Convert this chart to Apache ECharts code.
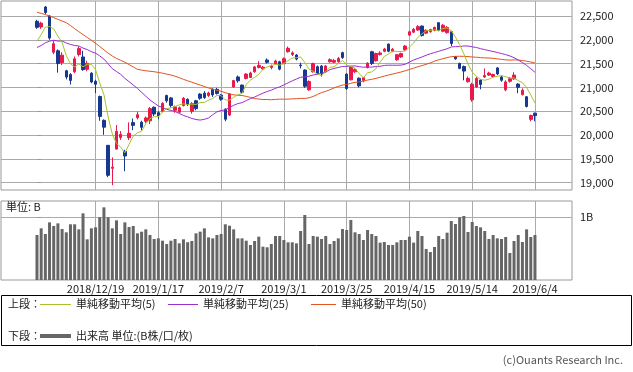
<!DOCTYPE html>
<html><head><meta charset="utf-8">
<script src="https://cdn.jsdelivr.net/npm/echarts@6/dist/echarts.min.js"></script>
<style>html,body{margin:0;padding:0;background:#fff}#c{width:633px;height:372px}</style>
</head><body><div id="c"></div>
<script>
const dates = ["2018/11/29","2018/11/30","2018/12/3","2018/12/4","2018/12/5","2018/12/6","2018/12/7","2018/12/10","2018/12/11","2018/12/12","2018/12/13","2018/12/14","2018/12/17","2018/12/18","2018/12/19","2018/12/20","2018/12/21","2018/12/25","2018/12/26","2018/12/27","2018/12/28","2019/1/4","2019/1/7","2019/1/8","2019/1/9","2019/1/10","2019/1/11","2019/1/15","2019/1/16","2019/1/17","2019/1/18","2019/1/21","2019/1/22","2019/1/23","2019/1/24","2019/1/25","2019/1/28","2019/1/29","2019/1/30","2019/1/31","2019/2/1","2019/2/4","2019/2/5","2019/2/6","2019/2/7","2019/2/8","2019/2/12","2019/2/13","2019/2/14","2019/2/15","2019/2/18","2019/2/19","2019/2/20","2019/2/21","2019/2/22","2019/2/25","2019/2/26","2019/2/27","2019/2/28","2019/3/1","2019/3/4","2019/3/5","2019/3/6","2019/3/7","2019/3/8","2019/3/11","2019/3/12","2019/3/13","2019/3/14","2019/3/15","2019/3/18","2019/3/19","2019/3/20","2019/3/22","2019/3/25","2019/3/26","2019/3/27","2019/3/28","2019/3/29","2019/4/1","2019/4/2","2019/4/3","2019/4/4","2019/4/5","2019/4/8","2019/4/9","2019/4/10","2019/4/11","2019/4/12","2019/4/15","2019/4/16","2019/4/17","2019/4/18","2019/4/19","2019/4/22","2019/4/23","2019/4/24","2019/4/25","2019/4/26","2019/5/7","2019/5/8","2019/5/9","2019/5/10","2019/5/13","2019/5/14","2019/5/15","2019/5/16","2019/5/17","2019/5/20","2019/5/21","2019/5/22","2019/5/23","2019/5/24","2019/5/27","2019/5/28","2019/5/29","2019/5/30","2019/5/31","2019/6/3","2019/6/4"];

const openP = [22390,22270,22690,22500,21740,21770,21520,21350,21270,21330,21690,21640,21380,21300,21130,20810,20310,19785,19302,19706,19950,19655,19944,20262,20366,20270,20290,20300,20585,20470,20500,20830,20780,20520,20480,20620,20750,20500,20720,20860,20880,20831,20965,20960,20840,20545,20420,21010,21220,21050,21190,21210,21330,21420,21390,21575,21420,21500,21540,21500,21750,21690,21680,21470,21365,20950,21330,21435,21450,21330,21540,21530,21540,21730,21280,21160,21330,21195,21150,21420,21750,21560,21690,21760,21910,21760,21580,21640,21790,22100,22160,22205,22290,22140,22170,22200,22360,22180,22150,22170,21645,21505,21440,21120,20740,21010,21155,21220,21260,21230,21410,21220,20950,21130,21180,21070,20850,20805,20330,20460];
const closeP = [22262,22351,22574,22036,21919,21501,21678,21219,21148,21602,21816,21374,21506,21115,21068,20392,20166,19155,19327,20077,20015,19561,20038,20204,20427,20163,20360,20555,20442,20402,20666,20719,20622,20593,20574,20773,20649,20664,20556,20773,20788,20883,20844,20874,20751,20333,20864,21144,21139,20900,21281,21302,21431,21464,21425,21528,21449,21556,21385,21602,21822,21726,21596,21456,21025,21125,21503,21290,21287,21451,21584,21566,21608,21627,20977,21428,21378,21033,21205,21509,21505,21713,21724,21807,21761,21802,21687,21711,21870,22169,22221,22277,22090,22200,22217,22259,22200,22307,22258,21923,21602,21402,21344,21191,21067,21188,21062,21250,21301,21272,21283,21151,21117,21182,21260,21003,20942,20601,20410,20408];
const highP = [22420,22380,22710,22520,21980,21800,21740,21370,21300,21650,21860,21770,21560,21320,21160,20830,20330,19790,19530,20211,20084,19692,20266,20347,20494,20300,20390,20590,20600,20500,20690,20850,20800,20620,20600,20800,20770,20690,20740,20880,20920,20910,20980,20990,20860,20560,20880,21160,21250,21060,21300,21330,21450,21550,21450,21610,21480,21580,21560,21630,21860,21760,21700,21520,21380,21150,21520,21460,21470,21470,21610,21600,21640,21750,21300,21440,21400,21210,21220,21530,21770,21730,21760,21830,21920,21830,21700,21730,21890,22190,22250,22310,22300,22220,22230,22280,22370,22330,22290,22190,21660,21520,21460,21230,21100,21220,21170,21400,21330,21290,21430,21240,21150,21220,21320,21090,20980,20820,20430,20470];
const lowP = [22230,22230,22540,22000,21700,21310,21470,21170,21060,21300,21650,21350,21340,21090,20880,20300,20006,19117,18948,19701,19900,19241,19895,20103,20331,20100,20250,20230,20400,20330,20480,20680,20580,20470,20460,20600,20610,20450,20520,20740,20760,20800,20800,20850,20720,20290,20400,20990,21100,20880,21170,21200,21310,21400,21370,21500,21380,21480,21360,21490,21730,21660,21570,21400,20990,20930,21310,21270,21230,21310,21520,21510,21520,21600,20950,21150,21300,21000,21110,21400,21470,21540,21670,21740,21740,21740,21560,21620,21770,22080,22140,22190,22070,22120,22150,22180,22180,22160,22130,21870,21580,21380,21150,21100,20700,20990,20960,21200,21240,21210,21260,21120,20920,21100,21160,20880,20830,20580,20290,20290];
const volume = [0.714,0.820,0.730,0.915,0.857,0.899,0.810,0.757,0.884,0.884,0.804,1.058,0.646,0.820,0.836,0.995,1.153,0.995,0.820,0.947,0.730,0.915,0.841,0.857,0.741,0.767,0.804,0.714,0.651,0.661,0.624,0.571,0.624,0.651,0.582,0.646,0.600,0.620,0.741,0.767,0.820,0.677,0.661,0.714,0.730,0.884,0.862,0.804,0.661,0.661,0.624,0.556,0.619,0.688,0.529,0.519,0.571,0.698,0.698,0.635,0.598,0.598,0.582,0.778,1.032,0.571,0.698,0.688,0.651,0.698,0.571,0.619,0.661,0.810,0.794,0.952,0.757,0.730,0.635,0.794,0.730,0.698,0.593,0.603,0.556,0.556,0.598,0.635,0.635,0.688,0.593,0.778,0.698,0.492,0.444,0.524,0.698,0.651,0.751,0.937,0.889,0.995,1.016,0.762,0.921,0.857,0.836,0.778,0.651,0.714,0.661,0.651,0.683,0.429,0.619,0.714,0.603,0.804,0.683,0.714];
const ma5 = [21970,22111,22263,22280,22228,22076,21942,21671,21493,21430,21493,21432,21489,21483,21376,21091,20849,20379,20022,19823,19748,19627,19804,19979,20049,20079,20238,20342,20389,20384,20485,20557,20570,20600,20635,20656,20642,20651,20643,20683,20686,20733,20769,20832,20828,20737,20733,20793,20846,20876,21066,21153,21211,21276,21381,21430,21459,21484,21469,21504,21563,21618,21626,21640,21525,21386,21341,21280,21246,21331,21423,21436,21499,21567,21472,21441,21404,21289,21204,21311,21326,21393,21531,21652,21702,21761,21756,21754,21766,21848,21932,22050,22125,22191,22201,22209,22193,22237,22248,22189,22058,21898,21706,21492,21321,21238,21170,21152,21174,21215,21234,21251,21225,21201,21199,21143,21101,20998,20843,20673];
const ma25 = [21838,21881,21937,21972,21991,21974,21974,21933,21903,21881,21870,21826,21796,21750,21720,21662,21596,21495,21395,21335,21275,21192,21121,21051,20981,20897,20818,20737,20673,20612,20579,20541,20517,20495,20453,20412,20383,20349,20327,20315,20331,20359,20427,20489,20516,20529,20581,20625,20662,20681,20726,20764,20799,20840,20880,20915,20944,20982,21013,21054,21096,21139,21177,21213,21223,21236,21261,21279,21295,21323,21373,21401,21420,21440,21443,21449,21452,21436,21425,21429,21428,21438,21445,21462,21468,21467,21466,21470,21487,21533,21577,21608,21640,21676,21707,21734,21759,21787,21812,21850,21857,21858,21871,21870,21852,21840,21814,21795,21774,21755,21734,21713,21689,21661,21625,21576,21523,21463,21392,21319];
const ma50 = [22578,22555,22530,22500,22465,22430,22395,22360,22300,22235,22170,22110,22050,21990,21927,21860,21790,21720,21660,21610,21570,21530,21480,21430,21380,21365,21350,21340,21330,21315,21300,21280,21262,21235,21205,21170,21140,21110,21080,21050,21020,20990,20960,20940,20920,20890,20865,20845,20835,20831,20812,20791,20768,20756,20746,20747,20742,20749,20754,20754,20754,20761,20763,20770,20769,20783,20810,20853,20892,20920,20951,20991,21022,21051,21062,21087,21108,21117,21132,21155,21171,21191,21213,21238,21261,21282,21303,21324,21350,21378,21406,21434,21459,21486,21515,21554,21580,21604,21626,21646,21653,21655,21653,21648,21640,21634,21626,21620,21618,21612,21601,21589,21580,21574,21579,21576,21565,21551,21534,21513];

const xTickIdx = [14,29,44,59,74,89,104,119];
const priceTicks = [19000,19500,20000,20500,21000,21500,22000,22500];
const volTicks = [1];

const FONT = '"Noto Sans CJK JP", "Noto Sans", sans-serif';
const UP = '#e8194b', DOWN = '#17388f';
const C5 = '#a6c42a', C25 = '#9a2fd0', C50 = '#e2531f';
const XMIN = -8.6, XMAX = 127.85;

const chart = echarts.init(document.getElementById('c'), null, {renderer: 'canvas'});

const grids = [
  {left: 1, right: 61, top: 1, height: 189, show: true, borderColor: '#999', borderWidth: 1, backgroundColor: 'transparent'},
  {left: 1, right: 61, top: 201, height: 79, show: true, borderColor: '#999', borderWidth: 1, backgroundColor: 'transparent'}
];
const xAxisBase = (gi, showLabel) => ({
  type: 'value', gridIndex: gi, min: XMIN, max: XMAX,
  axisLine: {show: false},
  axisTick: {show: false, customValues: xTickIdx},
  splitLine: {show: true, lineStyle: {color: '#aaa', width: 1}},
  axisLabel: {show: showLabel, customValues: xTickIdx, margin: 3, fontSize: 11, color: '#222', fontFamily: FONT,
    formatter: v => dates[Math.round(v)] || ''}
});

const option = {
  animation: false,
  backgroundColor: '#fff',
  textStyle: {fontFamily: FONT},
  grid: grids,
  xAxis: [xAxisBase(0, false), xAxisBase(1, true)],
  yAxis: [
    {type: 'value', gridIndex: 0, position: 'right', min: 18847, max: 22815, scale: true,
      axisLine: {show: false},
      axisTick: {show: true, length: 4, customValues: priceTicks, lineStyle: {color: '#999'}},
      splitLine: {show: true, lineStyle: {color: '#aaa', width: 1}},
      axisLabel: {customValues: priceTicks, margin: 8, fontSize: 11, color: '#222', fontFamily: FONT,
        formatter: v => v.toLocaleString('en-US')}},
    {type: 'value', gridIndex: 1, position: 'right', min: 0, max: 1.254,
      axisLine: {show: false},
      axisTick: {show: true, length: 4, customValues: volTicks, lineStyle: {color: '#999'}},
      splitLine: {show: true, lineStyle: {color: '#aaa', width: 1}},
      axisLabel: {customValues: volTicks, margin: 8, fontSize: 11, color: '#222', fontFamily: FONT,
        formatter: v => v + 'B'}}
  ],
  series: [
    {type: 'candlestick', xAxisIndex: 0, yAxisIndex: 0, barWidth: 3,
      encode: {x: 0, y: [1, 2, 3, 4]},
      itemStyle: {color: UP, color0: DOWN, borderColor: UP, borderColor0: DOWN, borderWidth: 1},
      data: dates.map((d, i) => [i, openP[i], closeP[i], lowP[i], highP[i]])},
    {type: 'line', xAxisIndex: 0, yAxisIndex: 0, symbol: 'none', lineStyle: {color: C50, width: 1}, itemStyle: {color: C50},
      data: ma50.map((v, i) => [i, v])},
    {type: 'line', xAxisIndex: 0, yAxisIndex: 0, symbol: 'none', lineStyle: {color: C25, width: 1}, itemStyle: {color: C25},
      data: ma25.map((v, i) => [i, v])},
    {type: 'line', xAxisIndex: 0, yAxisIndex: 0, symbol: 'none', lineStyle: {color: C5, width: 1}, itemStyle: {color: C5},
      data: ma5.map((v, i) => [i, v])},
    {type: 'bar', xAxisIndex: 1, yAxisIndex: 1, barWidth: 3, itemStyle: {color: '#666'},
      data: volume.map((v, i) => [i, v])}
  ],
  graphic: [
    {type: 'text', left: 6, top: 201, style: {text: '単位: B', font: '11px ' + FONT, fill: '#222'}},
    {type: 'rect', shape: {x: 1.5, y: 295.5, width: 630, height: 50}, style: {fill: 'none', stroke: '#000', lineWidth: 1}},
    {type: 'text', x: 8, y: 304, style: {text: '上段：', font: '11px ' + FONT, fill: '#222', verticalAlign: 'middle'}},
    {type: 'line', shape: {x1: 40, y1: 304.5, x2: 71, y2: 304.5}, style: {stroke: C5, lineWidth: 1}},
    {type: 'text', x: 76, y: 304, style: {text: '単純移動平均(5)', font: '11px ' + FONT, fill: '#222', verticalAlign: 'middle'}},
    {type: 'line', shape: {x1: 168, y1: 304.5, x2: 198, y2: 304.5}, style: {stroke: C25, lineWidth: 1}},
    {type: 'text', x: 203, y: 304, style: {text: '単純移動平均(25)', font: '11px ' + FONT, fill: '#222', verticalAlign: 'middle'}},
    {type: 'line', shape: {x1: 311, y1: 304.5, x2: 336, y2: 304.5}, style: {stroke: C50, lineWidth: 1}},
    {type: 'text', x: 341, y: 304, style: {text: '単純移動平均(50)', font: '11px ' + FONT, fill: '#222', verticalAlign: 'middle'}},
    {type: 'text', x: 8, y: 336, style: {text: '下段：', font: '11px ' + FONT, fill: '#222', verticalAlign: 'middle'}},
    {type: 'line', shape: {x1: 40, y1: 336, x2: 71, y2: 336}, style: {stroke: '#666', lineWidth: 4}},
    {type: 'text', x: 76, y: 336, style: {text: '出来高 単位:(B株/口/枚)', font: '11px ' + FONT, fill: '#222', verticalAlign: 'middle'}},
    {type: 'text', x: 623, y: 360, style: {text: '(c)Ouants Research Inc.', font: '11px ' + FONT, fill: '#555', align: 'right', verticalAlign: 'middle'}}
  ]
};
chart.setOption(option);
</script></body></html>
